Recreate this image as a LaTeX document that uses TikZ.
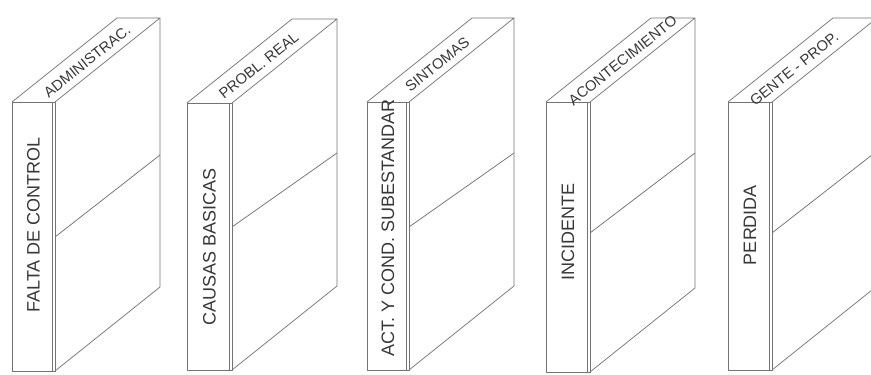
\documentclass[tikz,border=0pt]{standalone}
\usepackage{fontspec}
\setmainfont{Liberation Sans}
\tikzset{
  edge/.style={draw=black!55, line width=0.75pt, line join=round},
  fronttext/.style={rotate=90, inner sep=0pt, text=black!78, font=\fontsize{18}{18}\selectfont},
  toptext/.style={rotate=38.7, inner sep=0pt, text=black!78, font=\fontsize{14.8}{15}\selectfont}
}
\begin{document}
\begin{tikzpicture}[x=1pt,y=-1pt]
\useasboundingbox (0,0) rectangle (871,375);
\clip (0,0) rectangle (871,375);
\foreach \L/\R/\T/\B/\Ma/\Mb/\cy/\ft/\tt/\tp [count=\i] in {
  12/55/102/371/237/155/225/{FALTA DE CONTROL}/{ADMINISTRAC.}/0.51,
  187/232/103/370/227/153/247/{CAUSAS BASICAS}/{PROBL. REAL}/0.47,
  367/409/102/370/227/153/228/{ACT. Y COND. SUBESTANDAR}/{SINTOMAS}/0.47,
  546/590/102/372/233/153/232/{INCIDENTE}/{ACONTECIMIENTO}/0.52,
  728/772/102/370/233/151/225/{PERDIDA}/{GENTE - PROP.}/0.42}
{
  \coordinate (ftl\i) at (\L,\T);
  \coordinate (ftr\i) at (\R,\T);
  \coordinate (fbl\i) at (\L,\B);
  \coordinate (fbr\i) at (\R,\B);
  \coordinate (btl\i) at ({\L+105},{\T-84});
  \coordinate (btr\i) at ({\R+105},{\T-84});
  \coordinate (bbr\i) at ({\R+105},{\B-84});
  \coordinate (ma\i) at (\R,\Ma);
  \coordinate (mb\i) at ({\R+105},\Mb);
  \draw[edge] (ftl\i) rectangle (fbr\i);
  \draw[edge] ({\R-3},\T) -- ({\R-3},\B);
  \draw[edge] (ftl\i) -- (btl\i) -- (btr\i) -- (ftr\i);
  \draw[edge] (btr\i) -- (bbr\i) -- (fbr\i);
  \draw[edge] (ma\i) -- (mb\i);
  \node[fronttext] (front\i) at ({(\L+\R)/2},\cy) {\ft};
  \node[toptext] (top\i) at ({(\L+\R)/2+\tp*105},{\T-\tp*84+2}) {\tt};
}
\end{tikzpicture}
\end{document}
